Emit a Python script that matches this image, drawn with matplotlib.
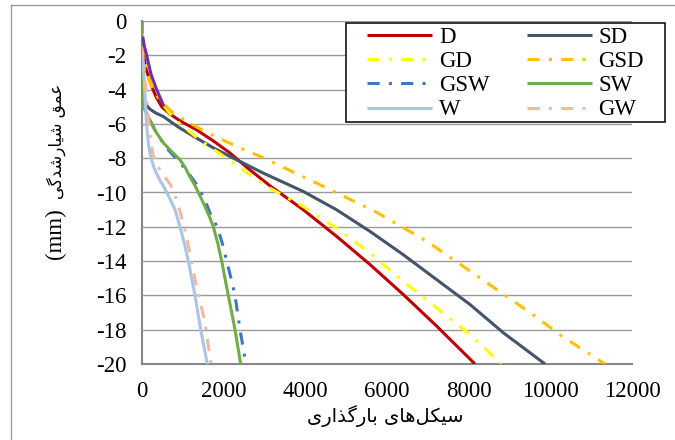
import matplotlib
matplotlib.use("Agg")
import matplotlib.pyplot as plt
from matplotlib.lines import Line2D
from matplotlib.patches import Rectangle

plt.rcParams['axes.unicode_minus'] = False

# ---------------- data (cycles, depth in mm) ----------------
D_cycles = [0, 40, 100, 220, 340, 482, 700, 950, 1339, 1750, 2155, 2600, 3135, 3951, 4767, 5584, 6400, 7216, 8155]
D_depth = [-1.0, -2.0, -2.8, -3.7, -4.4, -5.0, -5.45, -5.85, -6.35, -7.0, -7.7, -8.6, -9.61, -11.01, -12.56, -14.2, -15.95, -17.79, -20.0]

SD_cycles = [10, 80, 200, 350, 522, 900, 1339, 1750, 2155, 2971, 3951, 4767, 5584, 6400, 7216, 8033, 8849, 9870]
SD_depth = [-4.5, -4.85, -5.15, -5.38, -5.57, -6.2, -6.83, -7.4, -7.9, -8.87, -9.94, -11.01, -12.27, -13.63, -15.08, -16.53, -18.18, -20.0]

GD_cycles = [0, 30, 70, 130, 200, 300, 440, 650, 930, 1450, 2074, 2600, 3135, 3951, 4767, 5584, 6400, 7216, 8033, 8800]
GD_depth = [-1.3, -2.0, -2.5, -3.1, -3.6, -4.1, -4.6, -5.3, -6.0, -7.0, -8.0, -8.9, -9.75, -10.82, -12.08, -13.53, -15.18, -16.73, -18.28, -20.0]

GSD_cycles = [0, 30, 70, 130, 200, 300, 440, 730, 1130, 1550, 2030, 2500, 3000, 3650, 4359, 5706, 6971, 8278, 9625, 10278, 11340]
GSD_depth = [-1.3, -2.0, -2.5, -3.1, -3.6, -4.1, -4.6, -5.3, -5.9, -6.45, -7.0, -7.5, -8.0, -8.75, -9.55, -11.1, -12.84, -14.98, -17.21, -18.37, -20.0]

GSW_cycles = [0, 0, 40, 196, 350, 563, 750, 950, 1176, 1330, 1450, 1600, 1700, 1845, 1970, 2074, 2180, 2278, 2400, 2547]
GSW_depth = [0.0, -4.0, -5.0, -5.8, -6.5, -7.3, -7.8, -8.3, -9.0, -9.5, -10.0, -10.8, -11.4, -12.0, -13.0, -14.0, -15.0, -16.0, -18.0, -20.0]

SW_cycles = [0, 0, 40, 196, 350, 522, 700, 931, 1060, 1176, 1300, 1400, 1520, 1650, 1747, 1860, 1951, 2114, 2278, 2416]
SW_depth = [0.0, -4.0, -5.0, -5.8, -6.5, -7.1, -7.55, -8.1, -8.55, -9.1, -9.6, -10.1, -10.7, -11.4, -12.0, -13.0, -14.0, -16.0, -18.0, -20.0]

W_cycles = [0, 30, 70, 100, 120, 154, 200, 250, 300, 360, 440, 522, 650, 808, 931, 1040, 1135, 1298, 1437, 1600]
W_depth = [-1.9, -2.3, -4.2, -5.5, -6.3, -7.1, -7.8, -8.2, -8.6, -8.9, -9.3, -9.6, -10.2, -11.0, -12.0, -13.0, -14.0, -16.0, -18.0, -20.0]

GW_cycles = [0, 60, 100, 160, 210, 270, 350, 441, 560, 686, 800, 900, 1053, 1180, 1298, 1420, 1543, 1690]
GW_depth = [-1.5, -3.0, -4.2, -5.8, -7.0, -7.8, -8.3, -8.7, -9.1, -9.5, -10.1, -10.85, -12.2, -13.6, -15.1, -16.3, -17.6, -20.0]

P_cycles = [25, 60, 115, 220, 360, 522]
P_depth = [-1.0, -1.5, -2.0, -3.1, -4.0, -4.9]

x_ticks = [0, 2000, 4000, 6000, 8000, 10000, 12000]
y_ticks = [0, -2, -4, -6, -8, -10, -12, -14, -16, -18, -20]

# ---------------- Persian shaping (presentation forms) ----------------
FORMS = {
    '\u0627': ('\uFE8D', '\uFE8E', None, None),
    '\u0628': ('\uFE8F', '\uFE90', '\uFE91', '\uFE92'),
    '\u062F': ('\uFEA9', '\uFEAA', None, None),
    '\u0630': ('\uFEAB', '\uFEAC', None, None),
    '\u0631': ('\uFEAD', '\uFEAE', None, None),
    '\u0633': ('\uFEB1', '\uFEB2', '\uFEB3', '\uFEB4'),
    '\u0634': ('\uFEB5', '\uFEB6', '\uFEB7', '\uFEB8'),
    '\u0639': ('\uFEC9', '\uFECA', '\uFECB', '\uFECC'),
    '\u0642': ('\uFED5', '\uFED6', '\uFED7', '\uFED8'),
    '\u0644': ('\uFEDD', '\uFEDE', '\uFEDF', '\uFEE0'),
    '\u0645': ('\uFEE1', '\uFEE2', '\uFEE3', '\uFEE4'),
    '\u0647': ('\uFEE9', '\uFEEA', '\uFEEB', '\uFEEC'),
    '\u06A9': ('\uFB8E', '\uFB8F', '\uFB90', '\uFB91'),
    '\u06AF': ('\uFB92', '\uFB93', '\uFB94', '\uFB95'),
    '\u06CC': ('\uFBFC', '\uFBFD', '\uFBFE', '\uFBFF'),
}


def shape_rtl(s):
    out = []
    for i, c in enumerate(s):
        if c == '\u200c':
            continue
        if c not in FORMS:
            out.append(c)
            continue
        prev = s[i - 1] if i > 0 else None
        nxt = s[i + 1] if i + 1 < len(s) else None
        jp = prev in FORMS and FORMS[prev][2] is not None
        jn = FORMS[c][2] is not None and nxt in FORMS
        f = FORMS[c]
        if jp and jn:
            g = f[3]
        elif jp:
            g = f[1]
        elif jn:
            g = f[2]
        else:
            g = f[0]
        out.append(g)
    return ''.join(reversed(out))


ylabel_fa = shape_rtl('عمق شیارشدگی')
ylabel_unit = '(mm)'
xlabel_txt = shape_rtl('سیکل\u200cهای بارگذاری')

# ---------------- figure ----------------
W, H = 675, 440
fig = plt.figure(figsize=(W / 100, H / 100), dpi=100)
L, R, T, B = 142, 632, 21, 364
ax = fig.add_axes([L / W, 1 - B / H, (R - L) / W, (B - T) / H])

lw = 2.2
dd = (4.0, 3.0, 1.0, 3.0)
series = [
    ('D', D_cycles, D_depth, '#C00000', None),
    ('SD', SD_cycles, SD_depth, '#44546A', None),
    ('GD', GD_cycles, GD_depth, '#FFFF00', dd),
    ('GSD', GSD_cycles, GSD_depth, '#FFC000', dd),
    ('GSW', GSW_cycles, GSW_depth, '#4472C4', dd),
    ('SW', SW_cycles, SW_depth, '#70AD47', None),
    ('W', W_cycles, W_depth, '#A9C5E8', None),
    ('GW', GW_cycles, GW_depth, '#F4B8A0', dd),
]
lines = {}
for name, xs, ys, col, dash in series:
    ln, = ax.plot(xs, ys, color=col, lw=lw, solid_capstyle='butt',
                  solid_joinstyle='round')
    if dash:
        ln.set_dashes(dash)
    lines[name] = ln
ax.plot(P_cycles, P_depth, color='#7030A0', lw=lw, solid_joinstyle='round')

ax.set_xlim(0, 12000)
ax.set_ylim(-20, 0)
ax.set_xticks(x_ticks)
ax.set_yticks(y_ticks)
ax.set_xticklabels([str(v) for v in x_ticks])
ax.set_yticklabels([str(v) for v in y_ticks])
ax.tick_params(length=0, labelsize=16.5)
ax.tick_params(axis='x', pad=12)
ax.tick_params(axis='y', pad=11)
for lab in ax.get_xticklabels() + ax.get_yticklabels():
    lab.set_fontfamily('Liberation Serif')
ax.grid(axis='y', color='#9A9A9A', lw=1.0)
ax.set_axisbelow(True)
for s in ['top', 'right']:
    ax.spines[s].set_visible(False)
for s in ['left', 'bottom']:
    ax.spines[s].set_color('#868686')
    ax.spines[s].set_linewidth(1.5)
    ax.spines[s].set_zorder(0.5)

# y-axis title: Persian part (top) + unit (bottom), read bottom-to-top
fig.text(56 / W, 1 - 141 / H, ylabel_fa, rotation=90, ha='center', va='center',
         fontsize=12, family=['DejaVu Sans'])
fig.text(55 / W, 1 - 234 / H, ylabel_unit, rotation=90, ha='center', va='center',
         fontsize=16.5, family=['Liberation Serif'])
fig.text(385 / W, 1 - 416 / H, xlabel_txt, ha='center', va='center',
         fontsize=14, family=['DejaVu Sans'])

# chart-area border (partially cropped in the original)
fig.add_artist(Line2D([11 / W, 1.0], [1 - 5 / H, 1 - 5 / H], color='#9A9A9A', lw=1.0))
fig.add_artist(Line2D([11 / W, 11 / W], [0, 1 - 5 / H], color='#9A9A9A', lw=1.0))

# legend (manual, figure pixel layout)
fig.add_artist(Rectangle((346 / W, 1 - 122 / H), (665 - 346) / W, (122 - 23) / H,
                         transform=fig.transFigure, facecolor='white', edgecolor='black',
                         lw=1.1, zorder=5))
order = [['D', 'GD', 'GSW', 'W'], ['SD', 'GSD', 'SW', 'GW']]
col_x = [(367, 432, 439), (527, 592, 598)]
row_base = [43, 67, 91, 115]
for ci, names in enumerate(order):
    hx0, hx1, tx = col_x[ci]
    for ri, name in enumerate(names):
        src = lines[name]
        yc = row_base[ri] - 7.5
        h = Line2D([hx0 / W, hx1 / W], [1 - yc / H, 1 - yc / H], color=src.get_color(),
                   lw=lw, zorder=6, solid_capstyle='butt')
        if src.get_linestyle() not in ('-', 'solid'):
            h.set_dashes(dd)
        fig.add_artist(h)
        fig.text(tx / W, 1 - row_base[ri] / H, name, ha='left', va='baseline',
                 fontsize=16.5, family='Liberation Serif', zorder=7)

fig.savefig('out.png', dpi=100)
